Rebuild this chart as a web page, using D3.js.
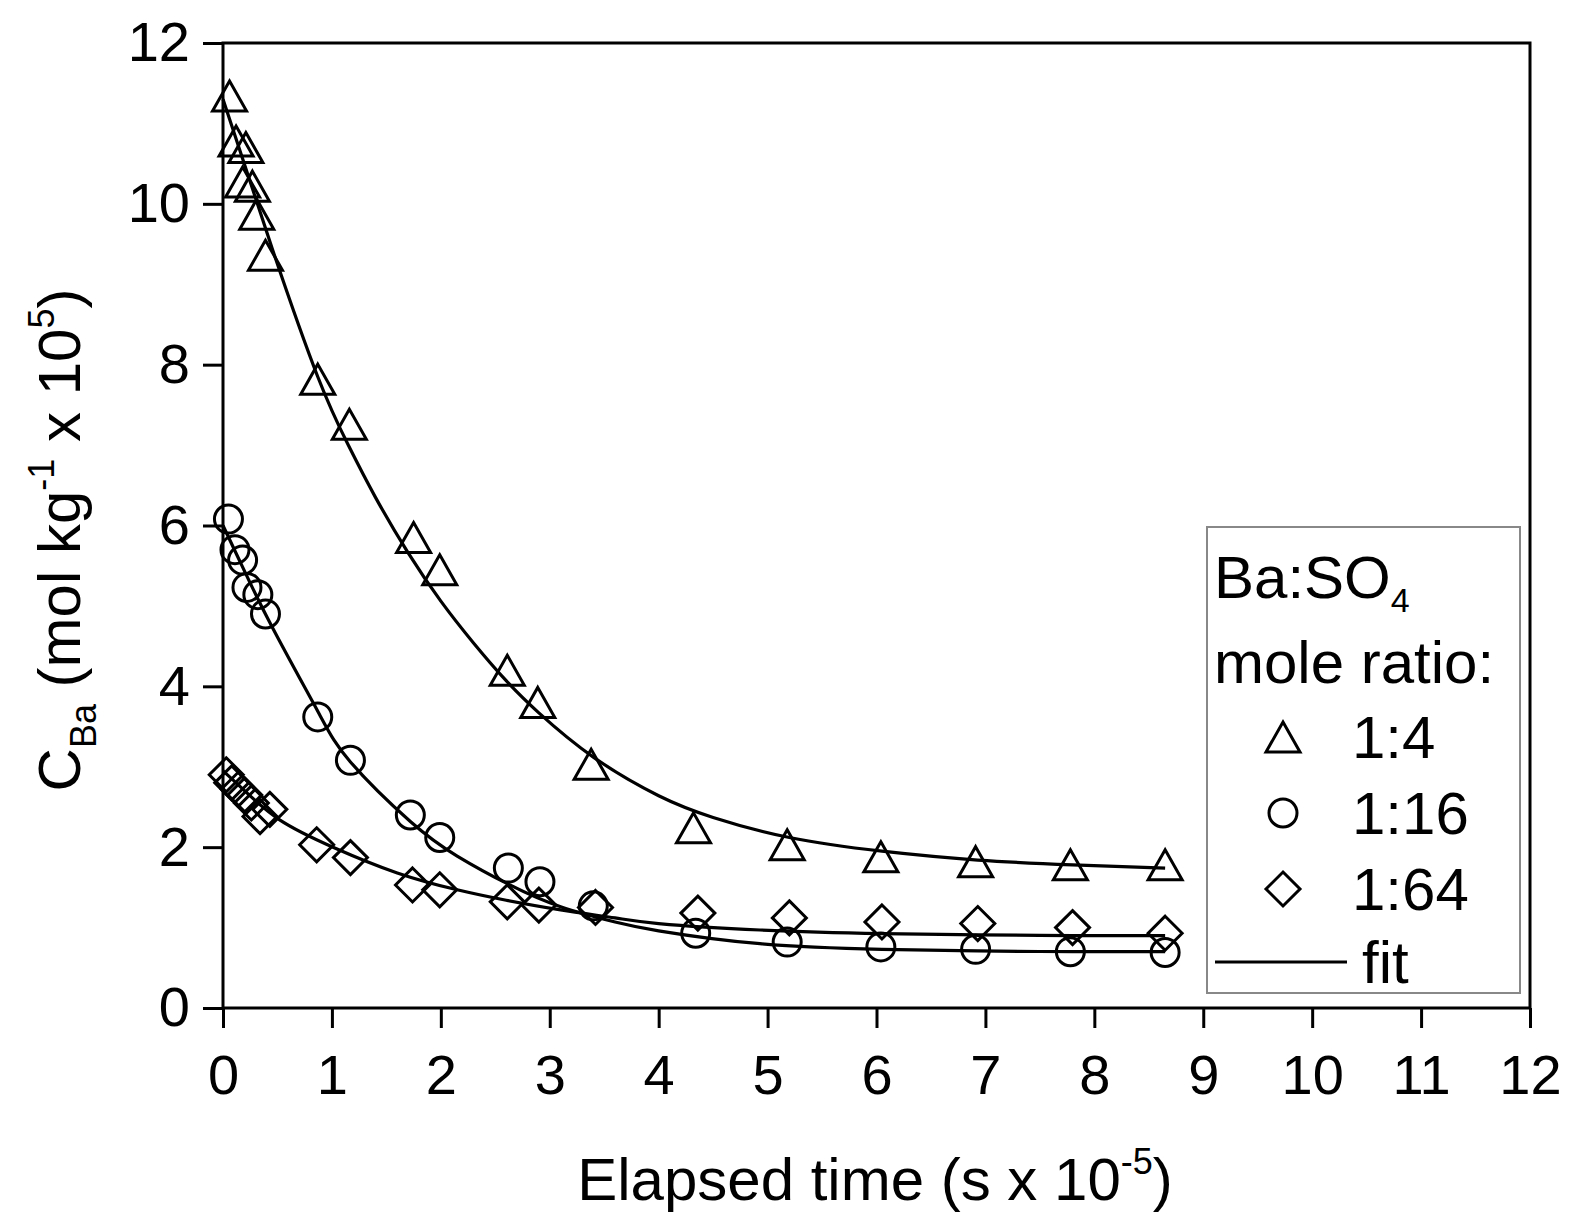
<!DOCTYPE html>
<html>
<head>
<meta charset="utf-8">
<script src="https://cdn.jsdelivr.net/npm/d3@7"></script>
<style>
  body { margin: 0; background: #fff; }
  text { font-family: "Liberation Sans", Arial, sans-serif; fill: #000; }
</style>
</head>
<body>
<svg id="chart" width="1572" height="1219"></svg>
<script>
  // ─── Data (time in s x 1e-5, C_Ba in mol/kg x 1e5) ───
  const xTicks = [0, 1, 2, 3, 4, 5, 6, 7, 8, 9, 10, 11, 12];
  const yTicks = [0, 2, 4, 6, 8, 10, 12];

  // measured points, 1:4 (triangles)
  const triT = [0.06, 0.12, 0.21, 0.18, 0.27, 0.31, 0.39, 0.87, 1.16, 1.75, 1.99, 2.61, 2.89, 3.38, 4.32, 5.18, 6.04, 6.91, 7.78, 8.65];
  const triC = [11.34, 10.78, 10.7, 10.27, 10.22, 9.87, 9.36, 7.82, 7.26, 5.85, 5.45, 4.2, 3.8, 3.03, 2.24, 2.03, 1.88, 1.82, 1.78, 1.78];

  // measured points, 1:16 (circles)
  const cirT = [0.05, 0.11, 0.18, 0.22, 0.32, 0.39, 0.87, 1.17, 1.72, 1.99, 2.62, 2.91, 3.4, 4.34, 5.18, 6.04, 6.91, 7.78, 8.65];
  const cirC = [6.08, 5.7, 5.57, 5.23, 5.14, 4.9, 3.62, 3.08, 2.4, 2.12, 1.74, 1.57, 1.27, 0.93, 0.82, 0.76, 0.73, 0.7, 0.69];

  // measured points, 1:64 (diamonds)
  const diaT = [0.03, 0.08, 0.14, 0.2, 0.26, 0.34, 0.43, 0.86, 1.17, 1.74, 1.99, 2.61, 2.9, 3.42, 4.36, 5.2, 6.05, 6.93, 7.8, 8.65];
  const diaC = [2.9, 2.8, 2.72, 2.65, 2.55, 2.38, 2.47, 2.03, 1.87, 1.53, 1.47, 1.32, 1.28, 1.25, 1.18, 1.12, 1.07, 1.05, 1.0, 0.93];

  // fitted curves
  const fit14T = [0, 0.45, 0.87, 1.15, 1.4, 1.7, 2.0, 2.3, 2.6, 2.9, 3.4, 4.0, 4.5, 5.2, 6.05, 6.93, 7.8, 8.65];
  const fit14C = [11.3, 9.45, 7.85, 7.0, 6.35, 5.66, 5.06, 4.54, 4.07, 3.67, 3.12, 2.64, 2.37, 2.12, 1.95, 1.84, 1.78, 1.74];

  const fit116T = [0, 0.16, 0.45, 0.87, 1.17, 1.72, 2.15, 2.62, 3.1, 3.6, 4.0, 4.93, 6.05, 6.93, 7.8, 8.65];
  const fit116C = [6.0, 5.54, 4.74, 3.69, 3.06, 2.32, 1.89, 1.54, 1.26, 1.07, 0.96, 0.8, 0.73, 0.71, 0.7, 0.7];

  const fit164T = [0, 0.2, 0.52, 1.01, 1.6, 2.15, 2.6, 3.1, 3.6, 4.0, 4.93, 6.05, 6.93, 7.8, 8.65];
  const fit164C = [2.95, 2.7, 2.34, 2.0, 1.68, 1.47, 1.34, 1.22, 1.12, 1.05, 0.97, 0.925, 0.91, 0.9, 0.9];

  const legendItems = ['1:4', '1:16', '1:64'];

  // ─── Layout ───
  const svg = d3.select('#chart');
  const X0 = 223, X1 = 1530, Y0 = 1008, Y1 = 43;
  const x = d3.scaleLinear().domain([0, 12]).range([X0, X1]);
  const y = d3.scaleLinear().domain([0, 12]).range([Y0, Y1]);
  const zip = (ts, cs) => ts.map((t, i) => ({ t, c: cs[i] }));

  // marker shapes (bbox-centred)
  const shapes = {
    tri: 'M0,-15L17,15L-17,15Z',
    cir: d3.symbol().type(d3.symbolCircle).size(Math.PI * 14 * 14)(),
    dia: 'M0,-17L17,0L0,17L-17,0Z'
  };

  // ticks (minor first, then major with labels)
  const gx = svg.append('g').attr('transform', `translate(0,${Y0})`);
  gx.call(d3.axisBottom(x).tickValues(d3.range(0.5, 12, 1)).tickSize(10).tickFormat(''));
  gx.call(d3.axisBottom(x).tickValues(xTicks).tickSize(20).tickPadding(26).tickFormat(d3.format('d')));
  gx.selectAll('.domain').remove();

  const gy = svg.append('g').attr('transform', `translate(${X0},0)`);
  gy.call(d3.axisLeft(y).tickValues(d3.range(1, 12, 2)).tickSize(10).tickFormat(''));
  gy.call(d3.axisLeft(y).tickValues(yTicks).tickSize(20).tickPadding(13).tickFormat(d3.format('d')));
  gy.selectAll('.domain').remove();

  svg.selectAll('.tick line').attr('stroke', '#000').attr('stroke-width', 3);
  svg.selectAll('.tick text').style('font-size', '56px').style('font-family', '"Liberation Sans", Arial, sans-serif');

  // frame
  svg.append('rect')
    .attr('x', X0).attr('y', Y1).attr('width', X1 - X0).attr('height', Y0 - Y1)
    .attr('fill', 'none').attr('stroke', '#000').attr('stroke-width', 3);

  // fit lines
  const line = d3.line().x(d => x(d.t)).y(d => y(d.c)).curve(d3.curveNatural);
  [zip(fit14T, fit14C), zip(fit116T, fit116C), zip(fit164T, fit164C)].forEach(s => {
    svg.append('path').attr('d', line(s))
      .attr('fill', 'none').attr('stroke', '#000').attr('stroke-width', 3.2);
  });

  // markers
  function drawMarkers(data, shape) {
    svg.append('g').selectAll('path')
      .data(data)
      .enter()
      .append('path')
      .attr('d', shapes[shape])
      .attr('transform', d => `translate(${x(d.t)},${y(d.c)})`)
      .attr('fill', 'none')
      .attr('stroke', '#000')
      .attr('stroke-width', 3);
  }
  drawMarkers(zip(triT, triC), 'tri');
  drawMarkers(zip(cirT, cirC), 'cir');
  drawMarkers(zip(diaT, diaC), 'dia');

  // axis titles
  const xt = svg.append('text').attr('x', 875).attr('y', 1200)
    .attr('text-anchor', 'middle').style('font-size', '60px');
  xt.append('tspan').text('Elapsed time (s x 10');
  xt.append('tspan').attr('dy', -26).style('font-size', '36px').text('-5');
  xt.append('tspan').attr('dy', 26).text(')');

  const yt = svg.append('text').attr('transform', 'translate(80,540) rotate(-90)')
    .attr('text-anchor', 'middle').style('font-size', '60px');
  yt.append('tspan').text('C');
  yt.append('tspan').attr('dy', 16).style('font-size', '36px').text('Ba');
  yt.append('tspan').attr('dy', -16).text(' (mol kg');
  yt.append('tspan').attr('dy', -26).style('font-size', '36px').text('-1');
  yt.append('tspan').attr('dy', 26).text(' x 10');
  yt.append('tspan').attr('dy', -26).style('font-size', '36px').text('5');
  yt.append('tspan').attr('dy', 26).text(')');

  // legend
  const lg = svg.append('g');
  lg.append('rect').attr('x', 1207).attr('y', 527).attr('width', 313).attr('height', 466)
    .attr('fill', '#fff').attr('stroke', '#888').attr('stroke-width', 2);
  const head = lg.append('text').attr('x', 1214).attr('y', 598).style('font-size', '60px');
  head.append('tspan').text('Ba:SO');
  head.append('tspan').attr('dy', 14).style('font-size', '34px').text('4');
  lg.append('text').attr('x', 1214).attr('y', 683).style('font-size', '60px').text('mole ratio:');

  const lgShapes = ['tri', 'cir', 'dia'];
  legendItems.forEach((lab, i) => {
    const cy = 737 + i * 76;
    lg.append('path').attr('d', shapes[lgShapes[i]])
      .attr('transform', `translate(1283,${cy})`)
      .attr('fill', 'none').attr('stroke', '#000').attr('stroke-width', 3);
    lg.append('text').attr('x', 1352).attr('y', cy + 21).style('font-size', '60px').text(lab);
  });
  lg.append('line').attr('x1', 1215).attr('x2', 1347).attr('y1', 962).attr('y2', 962)
    .attr('stroke', '#000').attr('stroke-width', 3);
  lg.append('text').attr('x', 1362).attr('y', 983).style('font-size', '60px').text('fit');
</script>
</body>
</html>
